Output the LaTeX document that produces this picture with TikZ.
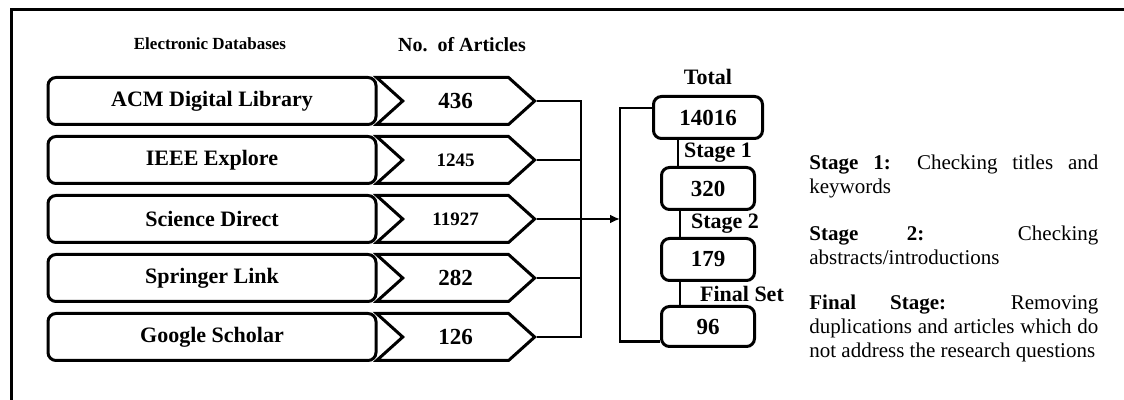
\documentclass[tikz,border=0pt]{standalone}
\usepackage{fontspec}
\setmainfont{Liberation Serif}
\usepackage{tikz}
\usetikzlibrary{shapes.symbols, positioning, arrows.meta}

\begin{document}
\begin{tikzpicture}[x=0.5pt, y=-0.5pt,
    db/.style={rectangle, rounded corners=4pt, draw, line width=1.5pt,
        minimum width=164pt, minimum height=23.5pt, inner sep=0pt,
        font=\fontsize{11}{13}\selectfont\bfseries},
    nb/.style={shape=signal, signal from=west, signal to=east,
        signal pointer angle=84, draw, line width=1.5pt,
        minimum width=79pt, minimum height=23.5pt, inner sep=0pt,
        font=\fontsize{11.5}{13}\selectfont\bfseries},
    nbs/.style={nb, font=\fontsize{9.5}{11}\selectfont\bfseries},
    tb/.style={rectangle, rounded corners=4pt, draw, line width=1.5pt,
        minimum width=46.5pt, minimum height=21pt, inner sep=0pt,
        font=\fontsize{11.5}{13}\selectfont\bfseries},
    lb/.style={inner sep=0pt, font=\fontsize{11}{13}\selectfont\bfseries},
    hd/.style={inner sep=0pt, font=\fontsize{10}{12}\selectfont\bfseries},
    tx/.style={anchor=north west, inner sep=0pt, text width=144.5pt,
        align=justify, font=\fontsize{10.5}{12}\selectfont},
    ln/.style={line width=1.1pt},
    ar/.style={ln, -{Latex[length=5pt, width=4.5pt]}},
    node distance=4.5pt]
\useasboundingbox (0,0) rectangle (1124,400);
\draw[line width=1.5pt] (11,400) -- (11,10) -- (1124,10);

% headings
\node[hd, font=\fontsize{8.5}{10}\selectfont\bfseries] (hdb) at (210,44) {Electronic Databases};
\node[hd] (hna) at (462,45) {No.\ \ of Articles};

% databases
\node[db] (d1) at (212,101) {ACM Digital Library};
\node[db, below=of d1] (d2) {IEEE Explore};
\node[db, below=of d2] (d3) {Science Direct};
\node[db, below=of d3] (d4) {Springer Link};
\node[db, below=of d4] (d5) {Google Scholar};

% article counts
\node[nb, right=11.5pt of d1] (a1) {436};
\node[nbs, right=11.5pt of d2] (a2) {1245};
\node[nbs, right=11.5pt of d3] (a3) {11927};
\node[nb, right=11.5pt of d4] (a4) {282};
\node[nb, right=11.5pt of d5] (a5) {126};

\coordinate (jn) at (581,0 |- a3.east);
\coordinate (br) at (620,0 |- a3.east);
\draw[ln] (a1.east) -| (jn);
\draw[ln] (a5.east) -| (jn);
\draw[ln] (a2.east) -- (a2.east -| jn);
\draw[ln] (a4.east) -- (a4.east -| jn);
\draw[ar] (a3.east) -- (br);

% screening stages
\node[tb, minimum width=54.5pt] (t) at (708,117.5) {14016};
\node[lb, above=5pt of t] (tt) {Total};
\node[tb, below=13pt of t] (s1) {320};
\node[tb, below=13pt of s1] (s2) {179};
\node[tb, below=11.5pt of s2, minimum height=20pt] (f) {96};

\draw[ln] ([yshift=4.75pt]t.west) -| (br) |- ([yshift=-7.5pt]f.west);
\draw[ln] ([xshift=-15pt]t.south) -- ([xshift=-15pt]t.south |- s1.north)
    node[lb, midway, right=2.5pt] {Stage 1};
\draw[ln] ([xshift=-14pt]s1.south) -- ([xshift=-14pt]s1.south |- s2.north)
    node[lb, midway, right=5pt] {Stage 2};
\draw[ln] ([xshift=-14pt]s2.south) -- ([xshift=-14pt]s2.south |- f.north)
    node[lb, midway, right=9.5pt] {Final Set};

% notes
\node[tx] (n1) at (809,155) {\textbf{Stage 1:} Checking titles and\linebreak keywords};
\node[tx] (n2) at (809,226) {\textbf{Stage 2:} Checking\linebreak abstracts/introductions};
\node[tx] (n3) at (809,295) {\textbf{Final Stage:} Removing\linebreak duplications and articles which do\linebreak not address the research questions};
\end{tikzpicture}
\end{document}
